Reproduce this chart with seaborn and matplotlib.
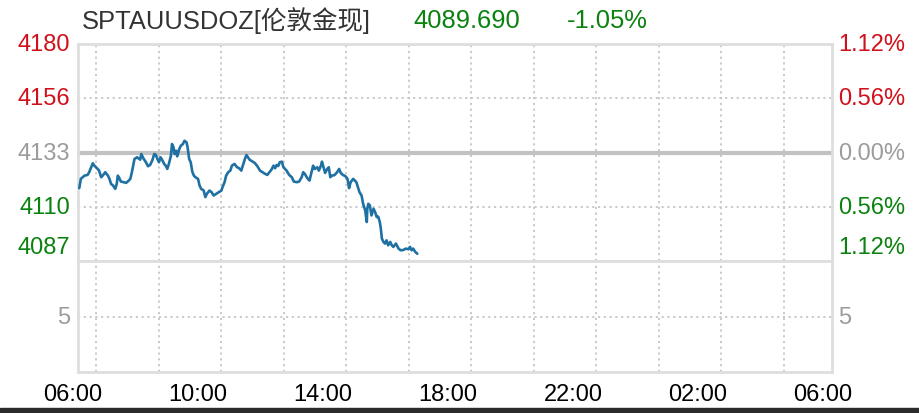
import matplotlib
matplotlib.use('Agg')
import matplotlib.pyplot as plt
from matplotlib.patches import Rectangle
import seaborn as sns
import numpy as np
import pandas as pd

sns.set_theme(style='white')
plt.rcParams['font.family'] = ['Liberation Sans', 'Noto Sans CJK SC', 'DejaVu Sans']

symbol = 'SPTAUUSDOZ[伦敦金现]'
last_price = '4089.690'
change_pct = '-1.05%'
prev_close = 4133.08
half_range = 46.5
price_labels = ['4180', '4156', '4133', '4110', '4087']
pct_labels = ['1.12%', '0.56%', '0.00%', '0.56%', '1.12%']
vol_label = '5'
time_labels = ['06:00', '10:00', '14:00', '18:00', '22:00', '02:00', '06:00']

# minutes after 06:00 and price
minutes = [12, 15, 22, 28, 31, 35, 38, 41, 46, 50, 54, 57, 62, 67, 70, 73, 77, 81, 84, 86,
           89, 92, 97, 102, 107, 110, 113, 116, 118, 123, 129, 131, 135, 140, 144, 148, 152, 156, 159, 162,
           165, 168, 172, 175, 178, 181, 184, 188, 190, 193, 195, 198, 200, 204, 207, 211, 214, 218, 220, 223,
           226, 229, 232, 235, 240, 243, 246, 251, 254, 257, 262, 266, 270, 275, 280, 285, 287, 291, 294, 298,
           302, 305, 310, 315, 319, 323, 326, 330, 333, 336, 339, 342, 349, 354, 359, 364, 369, 373, 377, 381,
           385, 388, 391, 394, 397, 401, 404, 407, 410, 415, 420, 424, 430, 434, 439, 442, 445, 450, 454, 458,
           461, 464, 469, 472, 476, 478, 481, 484, 488, 491, 494, 497, 502, 507, 511, 514, 518, 523, 527, 530,
           533, 538, 541, 544, 547, 550, 554, 557, 561, 564, 565, 567, 570, 573, 577, 580, 583, 586, 589, 591,
           593, 596, 599, 602, 605, 609, 612, 615, 620, 625, 629, 634, 639, 644, 647, 650, 653, 657, 661]
prices = [4117.81, 4121.78, 4123.18, 4123.48, 4124.63, 4126.77, 4128.47, 4127.45, 4126.34, 4125.32,
          4122.50, 4123.18, 4124.63, 4123.18, 4121.78, 4119.64, 4118.92, 4117.51, 4119.64, 4123.18,
          4122.07, 4120.62, 4120.37, 4120.07, 4121.05, 4121.78, 4124.63, 4128.17, 4130.31, 4131.03,
          4130.01, 4132.44, 4130.61, 4128.90, 4127.19, 4127.75, 4129.58, 4132.44, 4132.10, 4130.31,
          4128.90, 4131.03, 4129.58, 4128.17, 4127.45, 4126.04, 4128.17, 4131.71, 4136.71, 4135.30,
          4132.44, 4133.85, 4131.46, 4134.57, 4135.98, 4136.71, 4138.11, 4137.43, 4135.30, 4130.31,
          4128.90, 4124.89, 4123.18, 4122.50, 4121.78, 4118.92, 4117.51, 4116.78, 4113.97, 4115.38,
          4116.78, 4116.10, 4114.65, 4115.38, 4116.10, 4116.78, 4118.23, 4120.37, 4123.18, 4124.63,
          4125.32, 4127.45, 4128.17, 4126.77, 4126.34, 4125.32, 4127.45, 4130.31, 4132.01, 4131.03,
          4130.01, 4129.58, 4128.60, 4127.19, 4125.32, 4124.63, 4123.91, 4123.48, 4124.63, 4125.74,
          4127.45, 4126.34, 4127.75, 4127.30, 4128.90, 4129.16, 4126.77, 4126.04, 4125.32, 4123.48,
          4122.50, 4120.62, 4120.37, 4120.62, 4122.50, 4124.63, 4123.91, 4122.07, 4121.05, 4124.63,
          4127.45, 4126.04, 4126.77, 4125.32, 4127.45, 4129.16, 4126.77, 4124.33, 4126.04, 4126.77,
          4122.50, 4123.18, 4123.40, 4124.63, 4126.04, 4124.33, 4123.48, 4122.93, 4121.78, 4117.81,
          4120.37, 4121.78, 4121.05, 4120.37, 4118.23, 4116.10, 4114.65, 4111.11, 4108.25, 4103.30,
          4108.98, 4111.11, 4110.38, 4106.12, 4108.98, 4107.57, 4105.44, 4105.60, 4103.30, 4100.45,
          4096.18, 4094.77, 4094.05, 4095.45, 4093.32, 4094.77, 4093.32, 4092.64, 4094.05, 4091.91,
          4091.19, 4091.30, 4091.91, 4091.61, 4092.64, 4091.19, 4091.91, 4090.50, 4089.69]

df = pd.DataFrame({'minute': minutes, 'price': prices})

red = '#d0101b'
gray = '#9c9c9c'
green = '#0b820f'
label_colors = [red, red, gray, green, green]
grid_kw = dict(color='#c6c6c6', lw=1.3, ls=(0, (1.2, 2.0)))
fs = 17
fs_head = 18.4

fig = plt.figure(figsize=(9.2, 4.14), dpi=100)
fig.patch.set_facecolor('white')
ax = fig.add_axes([0.0848, 0.3671, 0.8196, 0.5242])
axv = fig.add_axes([0.0848, 0.0990, 0.8196, 0.2681])

x_lo, x_hi = 9.6, 1457.3
ylo, yhi = prev_close - half_range, prev_close + half_range
levels = [prev_close + half_range * f for f in (1, 0.5, 0, -0.5, -1)]

for a in (ax, axv):
    a.set_xlim(x_lo, x_hi)
    a.set_xticks([])
    a.set_yticks([])
    for s in a.spines.values():
        s.set_color('#dedede')
        s.set_linewidth(2)
    for gx in np.arange(44.2, x_hi, 120):
        a.axvline(gx, **grid_kw, zorder=1)

# price panel
ax.set_ylim(ylo, yhi)
ax.axhline(levels[1], **grid_kw, zorder=1)
ax.axhline(levels[3], **grid_kw, zorder=1)
ax.axhline(prev_close, color='#c2c2c2', lw=3, zorder=2)
sns.lineplot(data=df, x='minute', y='price', ax=ax, color='#1f70a3', lw=1.9, zorder=3)
ax.set_xlabel('')
ax.set_ylabel('')

for i, (lvl, lt, rt, col) in enumerate(zip(levels, price_labels, pct_labels, label_colors)):
    dy = 14 if i == len(levels) - 1 else 0
    ax.annotate(lt, xy=(0, lvl), xycoords=('axes fraction', 'data'), xytext=(-8, dy),
                textcoords='offset pixels', ha='right', va='center', color=col, fontsize=fs)
    ax.annotate(rt, xy=(1, lvl), xycoords=('axes fraction', 'data'), xytext=(6, dy),
                textcoords='offset pixels', ha='left', va='center', color=col, fontsize=fs)

# volume panel (empty)
axv.set_ylim(0, 10)
axv.axhline(5, **grid_kw, zorder=1)
axv.annotate(vol_label, xy=(0, 5), xycoords=('axes fraction', 'data'), xytext=(-8, 0),
             textcoords='offset pixels', ha='right', va='center', color=gray, fontsize=fs)
axv.annotate(vol_label, xy=(1, 5), xycoords=('axes fraction', 'data'), xytext=(6, 0),
             textcoords='offset pixels', ha='left', va='center', color=gray, fontsize=fs)
for k, t in enumerate(time_labels):
    axv.annotate(t, xy=(k * 240, 0), xycoords=('data', 'axes fraction'), xytext=(0, -22),
                 textcoords='offset pixels', ha='center', va='center', color='black', fontsize=fs)

# header
fig.text(82 / 920, 1 - 21 / 414, symbol, ha='left', va='center', color='#333333', fontsize=fs_head)
fig.text(413 / 920, 1 - 21 / 414, last_price, ha='left', va='center', color=green, fontsize=fs_head)
fig.text(567 / 920, 1 - 21 / 414, change_pct, ha='left', va='center', color=green, fontsize=fs_head)

fig.patches.append(Rectangle((0, 0), 1, 5 / 414, transform=fig.transFigure,
                             color='#2b2b2b', zorder=0))

fig.savefig('out.png', dpi=100)
plt.close(fig)
